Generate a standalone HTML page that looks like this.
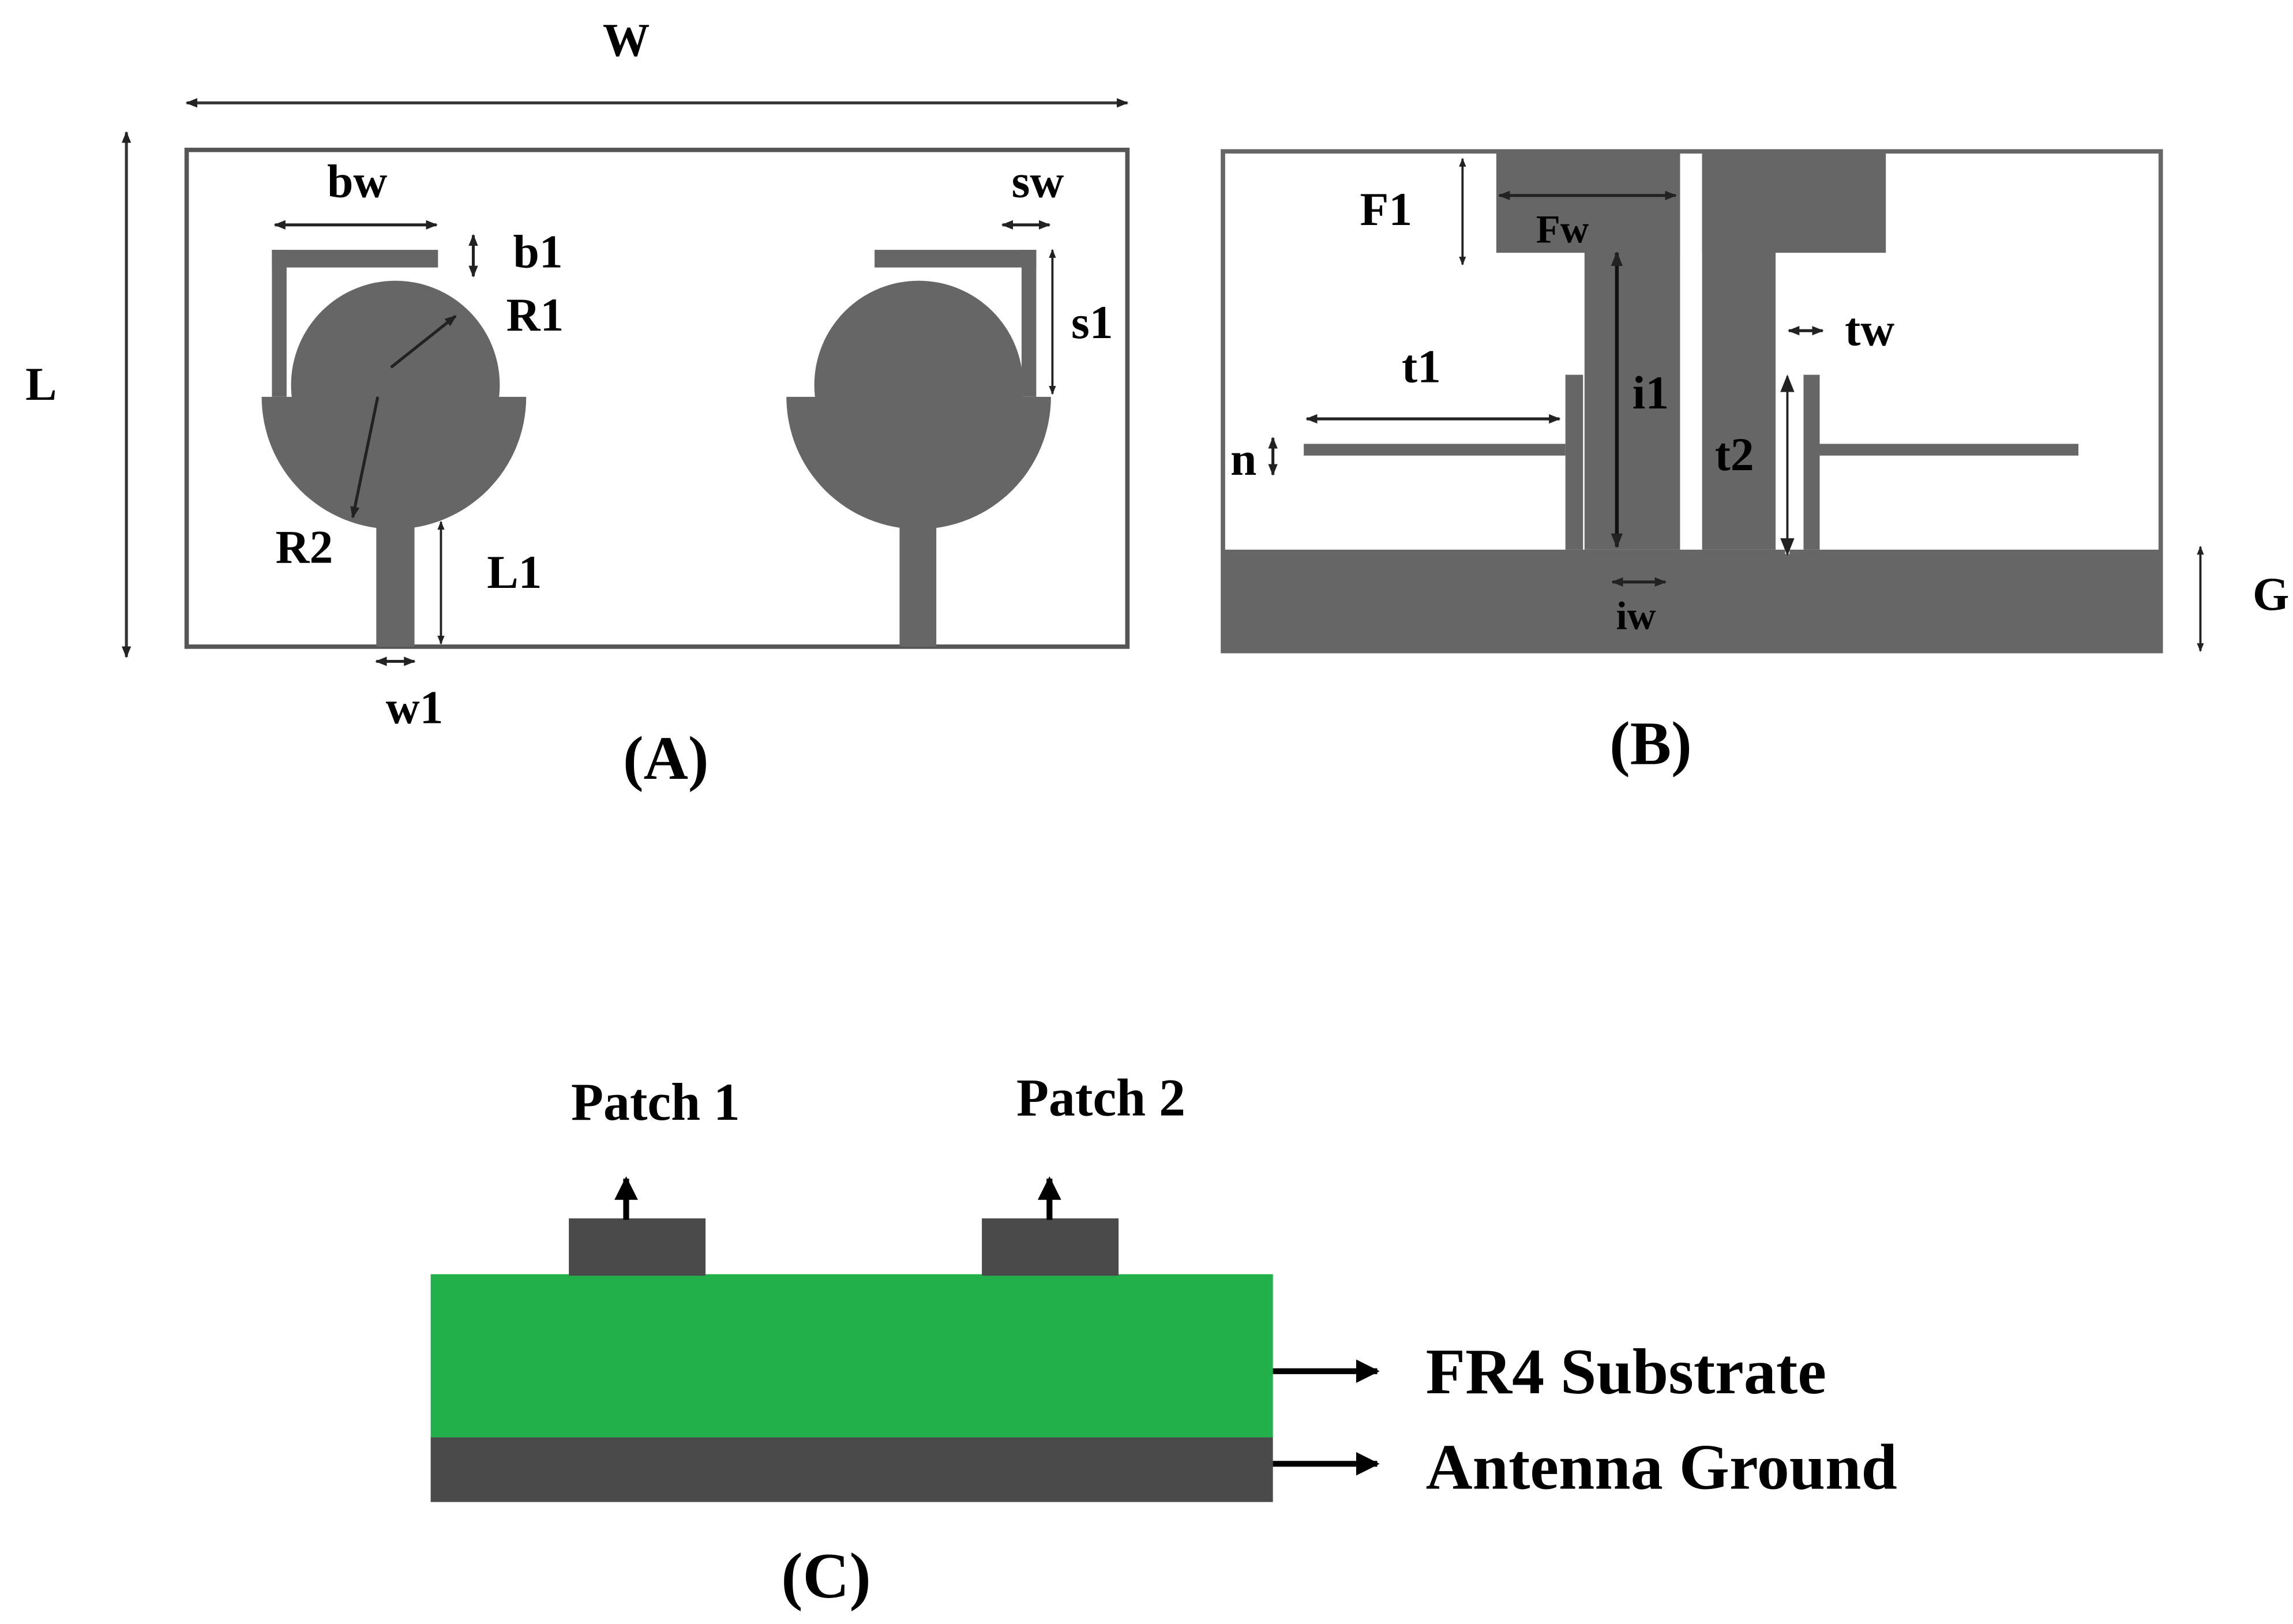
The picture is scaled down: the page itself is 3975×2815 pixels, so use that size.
<!DOCTYPE html>
<html><head><meta charset="utf-8"><style>
html,body{margin:0;padding:0;background:#fff;}
svg{display:block;}
text{font-family:"Liberation Serif",serif;font-weight:bold;fill:#000;}
</style></head><body>
<svg width="3975" height="2815" viewBox="0 0 1560 1105" preserveAspectRatio="none" xmlns="http://www.w3.org/2000/svg">
<defs>
<marker id="a" viewBox="0 0 10 10" refX="9" refY="5" markerWidth="4" markerHeight="4" orient="auto-start-reverse"><path d="M0,1 L10,5 L0,9 z" fill="#222"/></marker>
<marker id="b" viewBox="0 0 10 10" refX="9" refY="5" markerWidth="4" markerHeight="4" orient="auto-start-reverse"><path d="M0,0 L10,5 L0,10 z" fill="#000"/></marker>
</defs>
<g stroke="#333" stroke-width="2" fill="none">
<line x1="127" y1="70" x2="767" y2="70" marker-start="url(#a)" marker-end="url(#a)"/>
<line x1="86" y1="90" x2="86" y2="447" marker-start="url(#a)" marker-end="url(#a)"/>
</g>
<rect x="127" y="102" width="640" height="338" fill="none" stroke="#555" stroke-width="3"/>
<g fill="#666">
<circle cx="269" cy="262" r="71"/>
<path d="M178,270 A90,90 0 0 0 358,270 Z"/>
<rect x="256" y="345" width="26" height="95"/>
<rect x="185" y="170" width="113" height="12"/>
<rect x="185" y="170" width="10" height="100"/>
<circle cx="625" cy="262" r="71"/>
<path d="M535,270 A90,90 0 0 0 715,270 Z"/>
<rect x="612" y="345" width="25" height="95"/>
<rect x="595" y="170" width="110" height="12"/>
<rect x="695" y="170" width="10" height="100"/>
</g>
<g stroke="#222" stroke-width="2" fill="none">
<line x1="187" y1="153" x2="297" y2="153" marker-start="url(#a)" marker-end="url(#a)"/>
<line x1="322" y1="160" x2="322" y2="188" marker-start="url(#a)" marker-end="url(#a)"/>
<line x1="266" y1="250" x2="310" y2="215" marker-end="url(#a)"/>
<line x1="257" y1="270" x2="240" y2="352" marker-end="url(#a)"/>
<line x1="300" y1="355" x2="300" y2="438" marker-start="url(#a)" marker-end="url(#a)" stroke-width="1.5"/>
<line x1="256" y1="450" x2="282" y2="450" marker-start="url(#a)" marker-end="url(#a)"/>
<line x1="682" y1="153" x2="714" y2="153" marker-start="url(#a)" marker-end="url(#a)"/>
<line x1="716" y1="170" x2="716" y2="268" marker-start="url(#a)" marker-end="url(#a)" stroke-width="1.5"/>
</g>
<g font-size="32" text-anchor="middle">
<text x="426" y="38">W</text>
<text x="28" y="272">L</text>
<text x="243" y="134">bw</text>
<text x="366" y="182">b1</text>
<text x="364" y="225">R1</text>
<text x="207" y="383">R2</text>
<text x="350" y="400">L1</text>
<text x="282" y="492">w1</text>
<text x="706" y="134">sw</text>
<text x="743" y="230">s1</text>
<text x="453" y="530" font-size="42">(A)</text>
</g>
<rect x="832" y="103" width="638" height="340" fill="none" stroke="#666" stroke-width="3"/>
<g fill="#666">
<rect x="832" y="374" width="638" height="69"/>
<rect x="1018" y="103" width="125" height="69"/>
<rect x="1078" y="103" width="65" height="271"/>
<rect x="1158" y="103" width="125" height="69"/>
<rect x="1158" y="103" width="50" height="271"/>
<rect x="1065" y="255" width="12" height="119"/>
<rect x="887" y="302" width="178" height="8"/>
<rect x="1227" y="255" width="11" height="119"/>
<rect x="1238" y="302" width="176" height="8"/>
</g>
<g stroke="#222" stroke-width="2" fill="none">
<line x1="995" y1="108" x2="995" y2="180" marker-start="url(#a)" marker-end="url(#a)" stroke-width="1.5"/>
<line x1="1020" y1="133" x2="1140" y2="133" marker-start="url(#a)" marker-end="url(#a)"/>
<line x1="1100" y1="172" x2="1100" y2="372" marker-start="url(#a)" marker-end="url(#a)" stroke="#111" stroke-width="2.5"/>
<line x1="889" y1="285" x2="1061" y2="285" marker-start="url(#a)" marker-end="url(#a)"/>
<line x1="866" y1="298" x2="866" y2="323" marker-start="url(#a)" marker-end="url(#a)"/>
<line x1="1217" y1="225" x2="1240" y2="225" marker-start="url(#a)" marker-end="url(#a)"/>
<line x1="1216" y1="256" x2="1216" y2="377" marker-start="url(#a)" marker-end="url(#a)" stroke="#fff" stroke-width="3"/>
<line x1="1216" y1="256" x2="1216" y2="377" marker-start="url(#a)" marker-end="url(#a)" stroke-width="1.5"/>
<line x1="1097" y1="396" x2="1133" y2="396" marker-start="url(#a)" marker-end="url(#a)"/>
<line x1="1497" y1="372" x2="1497" y2="443" marker-start="url(#a)" marker-end="url(#a)" stroke-width="1.5"/>
</g>
<g font-size="32" text-anchor="middle">
<text x="943" y="153">F1</text>
<text x="1063" y="165" font-size="27">Fw</text>
<text x="1123" y="278">i1</text>
<text x="967" y="260">t1</text>
<text x="846" y="323">n</text>
<text x="1180" y="320">t2</text>
<text x="1272" y="235">tw</text>
<text x="1113" y="428" font-size="27">iw</text>
<text x="1545" y="415">G</text>
<text x="1123" y="520" font-size="42">(B)</text>
</g>
<rect x="293" y="867" width="573" height="111" fill="#22b04b"/>
<rect x="293" y="978" width="573" height="44" fill="#4a4a4a"/>
<rect x="387" y="829" width="93" height="39" fill="#4a4a4a"/>
<rect x="668" y="829" width="93" height="39" fill="#4a4a4a"/>
<g stroke="#000" stroke-width="4" fill="none">
<line x1="426" y1="830" x2="426" y2="802" marker-end="url(#b)"/>
<line x1="714" y1="830" x2="714" y2="802" marker-end="url(#b)"/>
<line x1="866" y1="933" x2="937" y2="933" marker-end="url(#b)"/>
<line x1="866" y1="996" x2="937" y2="996" marker-end="url(#b)"/>
</g>
<g font-size="36" text-anchor="middle">
<text x="446" y="762">Patch 1</text>
<text x="749" y="759">Patch 2</text>
<text x="562" y="1087" font-size="44">(C)</text>
</g>
<g font-size="44">
<text x="970" y="948">FR4 Substrate</text>
<text x="970" y="1013">Antenna Ground</text>
</g>
</svg>
</body></html>
